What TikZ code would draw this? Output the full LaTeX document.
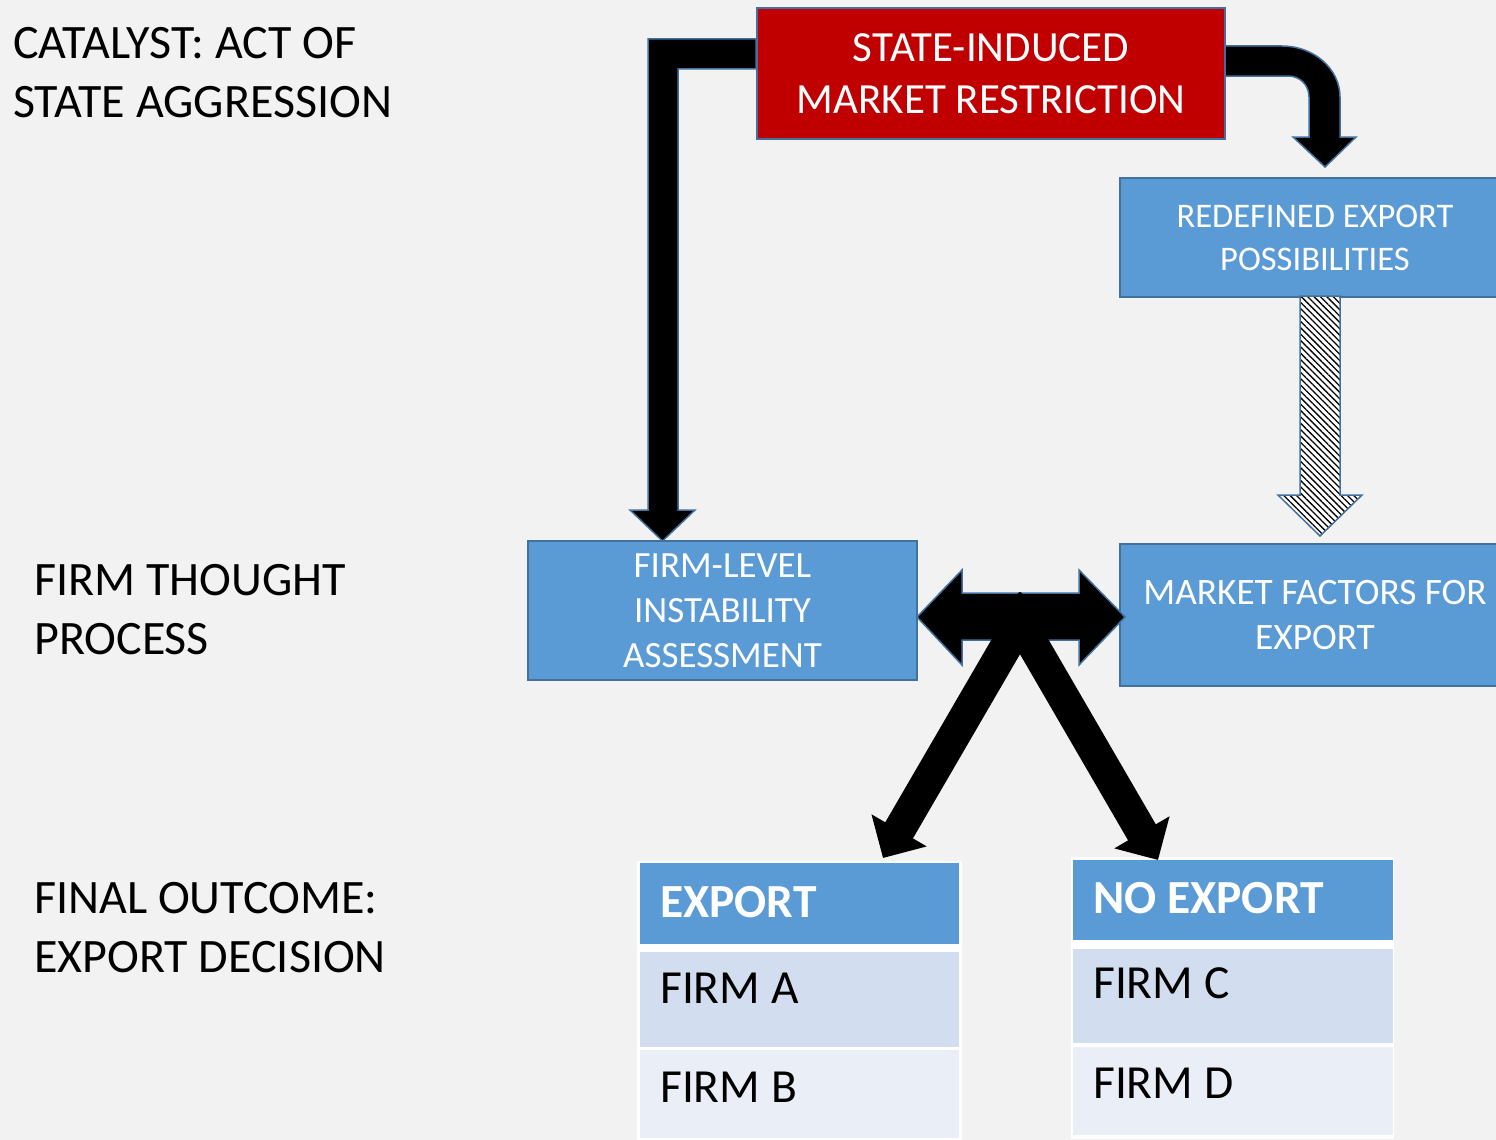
\documentclass[tikz,border=0pt]{standalone}
\usepackage{fontspec}
\setmainfont{Carlito}
\usetikzlibrary{arrows.meta,patterns.meta}

\definecolor{pagebg}{HTML}{F2F2F2}
\definecolor{boxblue}{HTML}{5B9BD5}
\definecolor{edgeblue}{HTML}{41719C}
\definecolor{alarmred}{HTML}{C00000}
\definecolor{bandone}{HTML}{D2DEEF}
\definecolor{bandtwo}{HTML}{EAEFF7}

\tikzset{
  box/.style={draw=edgeblue, line width=2pt, text=white, align=center,
    inner sep=0pt, anchor=north west},
  sidenote/.style={anchor=north west, align=left, inner sep=0pt,
    font=\fontsize{48}{59}\selectfont},
  blockarrow/.style={fill=black, draw=edgeblue, line width=1.5pt, line join=miter},
  fatarrow/.style={line width=32pt, -{Triangle[length=32pt,width=62pt]}},
  frame/.style={fill=white, inner sep=0pt, anchor=north west},
  cell/.style={inner sep=0pt, anchor=north west},
  celltext/.style={anchor=base west, inner sep=0pt, font=\fontsize{47.5}{56}\selectfont},
}

\begin{document}
\begin{tikzpicture}[x=1pt, y=-1pt]
  % page
  \fill[pagebg] (0,0) rectangle (1496,1140);
  \clip (0,0) rectangle (1496,1140);

  % stage captions on the left
  \node[sidenote] (catalyst) at (13,27.5) {CATALYST: ACT OF\\STATE AGGRESSION};
  \node[sidenote] (thought)  at (34,564) {FIRM THOUGHT\\PROCESS};
  \node[sidenote] (outcome)  at (34,882) {FINAL OUTCOME:\\EXPORT DECISION};

  % bent block arrows leaving the restriction box
  \draw[blockarrow] (756,39) -- (648,39) -- (648,510) -- (630,510) -- (662.5,541)
    -- (695,510) -- (678,510) -- (678,69) -- (756,69) -- cycle;
  \draw[blockarrow] (1224,46) -- (1282,46) .. controls (1314,46) and (1340,69) .. (1340,97)
    -- (1340,137) -- (1356,137) -- (1325,167) -- (1293,137) -- (1309,137) -- (1309,97)
    .. controls (1309,85) and (1300,76) .. (1288,76) -- (1224,76) -- cycle;

  % boxes
  \node[box, fill=alarmred, minimum width=468pt, minimum height=131pt,
        font=\fontsize{43}{52}\selectfont] (restrict) at (756,7)
        {STATE-INDUCED\\MARKET RESTRICTION};
  \node[box, fill=boxblue, minimum width=390pt, minimum height=119pt,
        font=\fontsize{34.5}{43}\selectfont] (redefined) at (1119,177)
        {REDEFINED EXPORT\\POSSIBILITIES};
  \node[box, fill=boxblue, minimum width=389pt, minimum height=139pt,
        font=\fontsize{37}{45}\selectfont] (instab) at (527,540)
        {FIRM-LEVEL\\INSTABILITY\\ASSESSMENT};
  \node[box, fill=boxblue, minimum width=390pt, minimum height=142pt,
        font=\fontsize{37.3}{45}\selectfont] (factors) at (1119,543)
        {MARKET FACTORS FOR\\EXPORT};

  % hatched arrow between the two right-hand boxes
  \path[preaction={fill=white},
        pattern={Lines[angle=-45,distance=4.5pt,line width=1.3pt]}, pattern color=black,
        draw=edgeblue, line width=1.5pt, line join=miter]
    (1300,296) -- (1300,495) -- (1278,495) -- (1320,536) -- (1362,495)
    -- (1340,495) -- (1340,296) -- cycle;

  % outcome tables
  \node[frame, minimum width=325pt, minimum height=280pt] (exframe) at (637,861) {};
  \node[cell, fill=boxblue, minimum width=319pt, minimum height=81pt] (exhead) at (640,863) {};
  \node[cell, fill=bandone, minimum width=319pt, minimum height=95pt] (exrowa) at (640,952) {};
  \node[cell, fill=bandtwo, minimum width=319pt, minimum height=88pt] (exrowb) at (640,1050) {};
  \node[celltext, text=white, font=\fontsize{47.5}{56}\selectfont\bfseries] (extitle) at (660,917) {EXPORT};
  \node[celltext] (firma) at (660,1003) {FIRM A};
  \node[celltext] (firmb) at (660,1102) {FIRM B};

  \node[frame, minimum width=323pt, minimum height=282pt] (noframe) at (1071,857) {};
  \node[cell, fill=boxblue, minimum width=320pt, minimum height=80pt] (nohead) at (1073,860) {};
  \node[cell, fill=bandone, minimum width=320pt, minimum height=94pt] (norowc) at (1073,949) {};
  \node[cell, fill=bandtwo, minimum width=320pt, minimum height=88pt] (norowd) at (1073,1047) {};
  \node[celltext, text=white, font=\fontsize{47.5}{56}\selectfont\bfseries] (notitle) at (1093,913) {NO EXPORT};
  \node[celltext] (firmc) at (1093,998) {FIRM C};
  \node[celltext] (firmd) at (1093,1098) {FIRM D};

  % two-headed arrow between the thought-process boxes
  \draw[blockarrow] (917,617) -- (962,570) -- (962,593) -- (1079,593) -- (1079,570)
    -- (1125,617) -- (1079,665) -- (1079,640) -- (962,640) -- (962,665) -- cycle;

  % decision arrows down to the tables
  \coordinate (hubL) at (1033,600);
  \coordinate (hubR) at (1007,600);
  \coordinate (tipA) at (883,858);
  \coordinate (tipB) at (1158,860);
  \draw[fatarrow] (hubL) -- (tipA);
  \draw[fatarrow] (hubR) -- (tipB);
\end{tikzpicture}
\end{document}
